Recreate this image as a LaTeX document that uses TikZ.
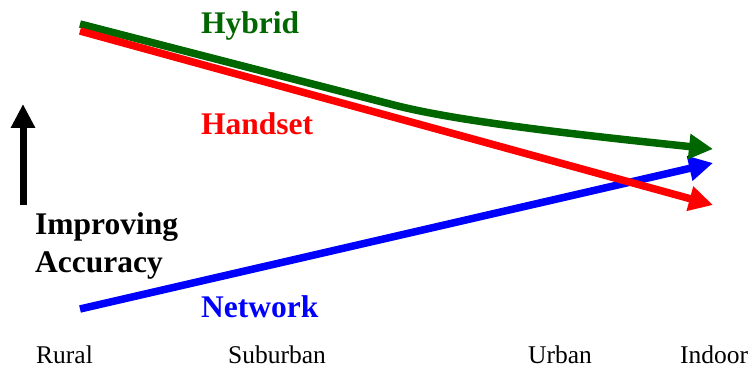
\documentclass[tikz,border=0pt]{standalone}
\usepackage{fontspec}
\setmainfont{Liberation Serif}
\usetikzlibrary{arrows.meta}
\definecolor{hybridgreen}{RGB}{0,102,0}
\tikzset{
	trend/.style={line width=7.5pt,-{Triangle[length=24pt,width=24pt]}},
	tech/.style={font=\fontsize{31.5}{37.5}\selectfont\bfseries,inner sep=0pt,anchor=base west},
	area/.style={font=\fontsize{25.5}{30}\selectfont,inner sep=0pt,anchor=base west}
}
\begin{document}
\begin{tikzpicture}[x=1pt,y=1pt]
\useasboundingbox (0,0) rectangle (751,369);
\coordinate (hybridstart) at (80,345);
\coordinate (hybridend) at (713,220);
\coordinate (handsetstart) at (80,338);
\coordinate (handsetend) at (713,164);
\coordinate (networkstart) at (80,60);
\coordinate (networkend) at (713,206);
\coordinate (accbottom) at (23,164);
\coordinate (acctop) at (23,265);
\draw [trend,blue] (networkstart) -- (networkend);
\draw [trend,hybridgreen] (hybridstart) -- (390,265)
	.. controls (450,249) and (560,236) .. (hybridend);
\draw [trend,red] (handsetstart) -- (handsetend);
\draw [line width=7pt,-{Triangle[length=24pt,width=23pt]}] (accbottom) -- (acctop);
\path
	(201,335) node (hybrid) [tech,hybridgreen] {Hybrid}
	(201,234) node (handset) [tech,red] {Handset}
	(201,51) node (network) [tech,blue] {Network}
	(35,134) node (improving) [tech] {Improving}
	(35,96.3) node (accuracy) [tech] {Accuracy};
\foreach \x/\t in {36/Rural,228/Suburban,528/Urban,680/Indoor}{
	\node (\t) [area] at (\x,6) {\t};
}
\end{tikzpicture}
\end{document}
